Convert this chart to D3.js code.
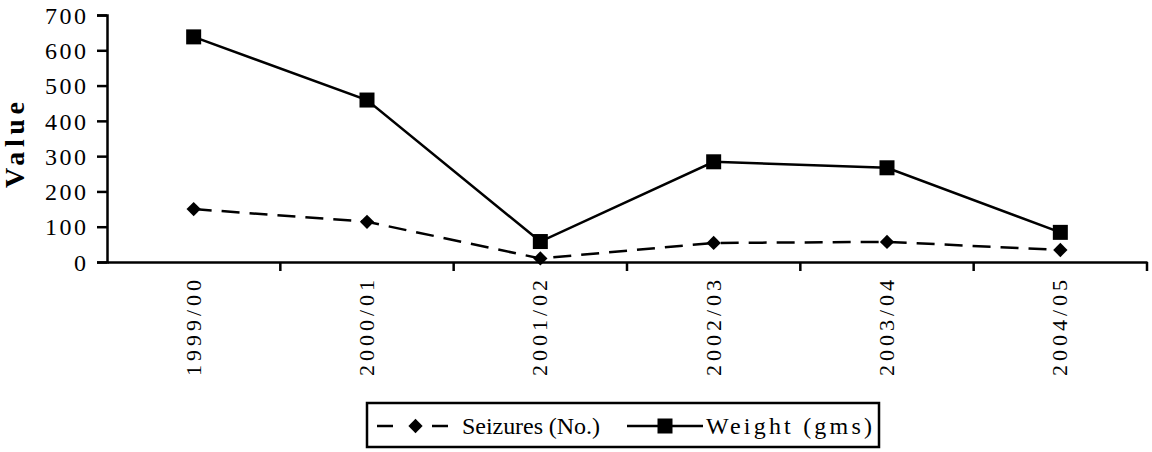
<!DOCTYPE html>
<html>
<head>
<meta charset="utf-8">
<script src="https://cdn.jsdelivr.net/npm/d3@7"></script>
<style>
  html, body { margin: 0; padding: 0; background: #fff; }
  svg text { font-family: "Liberation Serif", "Times New Roman", serif !important; fill: #000; }
</style>
</head>
<body>
<svg id="chart" width="1152" height="452"></svg>
<script>
const categories = ["1999/00", "2000/01", "2001/02", "2002/03", "2003/04", "2004/05"];
const seizures = [150, 114, 10, 54, 57, 34];
const weight = [638, 459, 58, 284, 267, 84];
const yTicks = [0, 100, 200, 300, 400, 500, 600, 700];
const seriesNames = ["Seizures (No.)", "Weight (gms)"];

const FONT = "'Liberation Serif', 'Times New Roman', serif";
const svg = d3.select("#chart");
const plotLeft = 107, plotRight = 1147, plotTop = 15, plotBottom = 262;

const x = d3.scaleBand().domain(categories).range([plotLeft, plotRight]).paddingInner(0).paddingOuter(0);
const y = d3.scaleLinear().domain([0, 700]).range([plotBottom, plotTop]);
const cx = c => x(c) + x.bandwidth() / 2;

// Y axis
const yAxis = svg.append("g").attr("transform", `translate(${plotLeft},0)`)
  .call(d3.axisLeft(y).tickValues(yTicks).tickSize(10).tickPadding(11).tickFormat(d3.format("d")));
yAxis.select(".domain").attr("stroke", "#000").attr("stroke-width", 2.5);
yAxis.selectAll(".tick line").attr("stroke", "#000").attr("stroke-width", 2.5);
yAxis.selectAll(".tick text")
  .attr("font-size", 24).style("font-family", FONT).attr("dy", "0.34em")
  .each(function(d) {
    const s = String(d);
    if (s.length > 1) d3.select(this).attr("textLength", s.length * 14 - 1).attr("lengthAdjust", "spacing");
  });

// X axis
const xAxis = svg.append("g").attr("transform", `translate(0,${plotBottom})`)
  .call(d3.axisBottom(x).tickSize(0).tickFormat(""));
xAxis.select(".domain").attr("stroke", "#000").attr("stroke-width", 2.5);
xAxis.selectAll(".tick").remove();
// boundary ticks between categories
const boundaries = categories.map(c => x(c) + x.bandwidth());
svg.append("g").selectAll("line").data(boundaries).join("line")
  .attr("x1", d => d).attr("x2", d => d)
  .attr("y1", plotBottom).attr("y2", plotBottom + 9)
  .attr("stroke", "#000").attr("stroke-width", 2.5);
// x labels
svg.append("g").selectAll("text").data(categories).join("text")
  .attr("transform", d => `translate(${cx(d) + 7},${plotBottom + 18}) rotate(-90)`)
  .attr("text-anchor", "end")
  .attr("font-size", 22)
  .attr("textLength", 96).attr("lengthAdjust", "spacing")
  .style("font-family", FONT)
  .text(d => d);

// Y title
svg.append("text")
  .attr("transform", `translate(24,145) rotate(-90)`)
  .attr("text-anchor", "middle")
  .attr("font-size", 28).attr("font-weight", "bold")
  .attr("textLength", 86).attr("lengthAdjust", "spacing")
  .style("font-family", FONT)
  .text("Value");

const line = d3.line().x((d, i) => cx(categories[i])).y(d => y(d));

// Seizures dashed
svg.append("path").datum(seizures)
  .attr("d", line).attr("fill", "none").attr("stroke", "#000")
  .attr("stroke-width", 2.5).attr("stroke-dasharray", "18,10");
const diamond = d3.symbol().type(d3.symbolDiamond2).size(130);
svg.append("g").selectAll("path").data(seizures).join("path")
  .attr("transform", (d, i) => `translate(${cx(categories[i])},${y(d)})`)
  .attr("d", diamond).attr("fill", "#000");

// Weight solid
svg.append("path").datum(weight)
  .attr("d", line).attr("fill", "none").attr("stroke", "#000").attr("stroke-width", 2.5);
svg.append("g").selectAll("rect").data(weight).join("rect")
  .attr("x", (d, i) => cx(categories[i]) - 7.5)
  .attr("y", d => y(d) - 7.5)
  .attr("width", 15).attr("height", 15).attr("fill", "#000");

// Legend
const lg = svg.append("g");
lg.append("rect").attr("x", 367).attr("y", 403).attr("width", 512).attr("height", 44)
  .attr("fill", "#fff").attr("stroke", "#000").attr("stroke-width", 2.5);
const ly = 426;
lg.append("line").attr("x1", 377).attr("x2", 393).attr("y1", ly).attr("y2", ly)
  .attr("stroke", "#000").attr("stroke-width", 2.5);
lg.append("line").attr("x1", 432).attr("x2", 448).attr("y1", ly).attr("y2", ly)
  .attr("stroke", "#000").attr("stroke-width", 2.5);
lg.append("path").attr("transform", `translate(415.5,${ly})`).attr("d", diamond).attr("fill", "#000");
lg.append("text").attr("x", 462).attr("y", ly + 8).attr("font-size", 24)
  .attr("textLength", 138).attr("lengthAdjust", "spacing")
  .style("font-family", FONT).text(seriesNames[0]);
lg.append("line").attr("x1", 627).attr("x2", 703).attr("y1", ly).attr("y2", ly)
  .attr("stroke", "#000").attr("stroke-width", 2.5);
lg.append("rect").attr("x", 665 - 7.5).attr("y", ly - 7.5).attr("width", 15).attr("height", 15).attr("fill", "#000");
lg.append("text").attr("x", 706).attr("y", ly + 8).attr("font-size", 24)
  .attr("textLength", 166).attr("lengthAdjust", "spacing")
  .style("font-family", FONT).text(seriesNames[1]);
</script>
</body>
</html>
